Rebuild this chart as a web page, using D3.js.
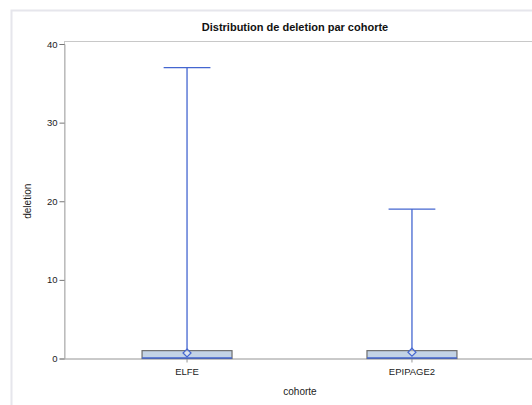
<!DOCTYPE html>
<html lang="en">
<head>
<meta charset="utf-8">
<title>Distribution de deletion par cohorte</title>
<script src="https://d3js.org/d3.v7.min.js"></script>
<style>
  body { margin: 0; background: #fff; }
  text { font-family: Arial, "Liberation Sans", sans-serif; }
</style>
</head>
<body>
<script>
// box plot statistics
var cohorts = ["ELFE", "EPIPAGE2"];
var q1 = [0, 0];
var medians = [0, 0];
var q3 = [1, 1];
var whiskerLow = [0, 0];
var whiskerHigh = [37, 19];
var means = [0.7, 0.8];
var yTicks = [0, 10, 20, 30, 40];

var w = 532, h = 405;
var margin = {left: 64, top: 41, right: -3, bottom: 47};

var svg = d3.select("body").append("svg")
    .attr("width", w)
    .attr("height", h);

// outer frame
svg.append("rect")
    .attr("x", 11.5).attr("y", 10.5)
    .attr("width", w + 10).attr("height", h + 10)
    .attr("fill", "#fff")
    .attr("stroke", "#e6e6ec")
    .attr("stroke-width", 2);

var x = d3.scaleBand()
    .domain(cohorts)
    .range([margin.left, w - margin.right])
    .paddingInner(0.6)
    .paddingOuter(0.347);

var y = d3.scaleLinear()
    .domain([0, 40])
    .range([358.5, 44]);

// plot area frame
svg.append("rect")
    .attr("x", margin.left + 0.5).attr("y", margin.top + 0.5)
    .attr("width", w - margin.right - margin.left).attr("height", y(0) - margin.top)
    .attr("fill", "none")
    .attr("stroke", "#c8c8c8");

var yAxis = svg.append("g")
    .attr("transform", "translate(" + (margin.left + 0.5) + ",0)")
    .call(d3.axisLeft(y).tickValues(yTicks).tickSize(5).tickPadding(2));
yAxis.select(".domain").attr("stroke", "#b0b0b0");
yAxis.selectAll(".tick line").attr("stroke", "#777");
yAxis.selectAll("text").attr("fill", "#222").style("font-size", "9.5px");

var xAxis = svg.append("g")
    .attr("transform", "translate(0," + y(0) + ")")
    .call(d3.axisBottom(x).tickSize(4).tickPadding(6).tickSizeOuter(0));
xAxis.select(".domain").attr("stroke", "#b0b0b0");
xAxis.selectAll(".tick line").attr("stroke", "#999");
xAxis.selectAll("text").attr("fill", "#222").style("font-size", "9.5px");

var blue = "#4466d0";
var bw = x.bandwidth();

cohorts.forEach(function(c, i) {
  var cx = x(c) + bw / 2;
  var g = svg.append("g");
  // whisker
  g.append("line")
      .attr("x1", cx).attr("x2", cx)
      .attr("y1", y(q3[i])).attr("y2", y(whiskerHigh[i]))
      .attr("stroke", blue).attr("stroke-width", 1.3);
  g.append("line")
      .attr("x1", cx - bw * 0.26).attr("x2", cx + bw * 0.26)
      .attr("y1", y(whiskerHigh[i])).attr("y2", y(whiskerHigh[i]))
      .attr("stroke", blue).attr("stroke-width", 1.3);
  // box
  g.append("rect")
      .attr("x", x(c)).attr("y", y(q3[i]))
      .attr("width", bw).attr("height", y(q1[i]) - y(q3[i]))
      .attr("fill", "#c3d3e6")
      .attr("stroke", "#6e6e6e").attr("stroke-width", 1.2);
  // median
  g.append("line")
      .attr("x1", x(c)).attr("x2", x(c) + bw)
      .attr("y1", y(medians[i]) - 0.5).attr("y2", y(medians[i]) - 0.5)
      .attr("stroke", blue).attr("stroke-width", 1.5);
  // mean diamond
  var my = y(means[i]);
  g.append("path")
      .attr("d", "M" + cx + "," + (my - 4) + "L" + (cx + 4) + "," + my +
                 "L" + cx + "," + (my + 4) + "L" + (cx - 4) + "," + my + "Z")
      .attr("fill", "#fff").attr("fill-opacity", 0.4)
      .attr("stroke", blue).attr("stroke-width", 1.2);
});

// titles
svg.append("text")
    .attr("x", 295).attr("y", 31)
    .attr("text-anchor", "middle")
    .style("font-size", "11px").style("font-weight", "bold")
    .attr("fill", "#111")
    .text("Distribution de deletion par cohorte");

svg.append("text")
    .attr("x", 300).attr("y", 395)
    .attr("text-anchor", "middle")
    .style("font-size", "10px")
    .attr("fill", "#222")
    .text("cohorte");

svg.append("text")
    .attr("transform", "translate(31," + y(20) + ") rotate(-90)")
    .attr("text-anchor", "middle")
    .style("font-size", "10px")
    .attr("fill", "#222")
    .text("deletion");
</script>
</body>
</html>
